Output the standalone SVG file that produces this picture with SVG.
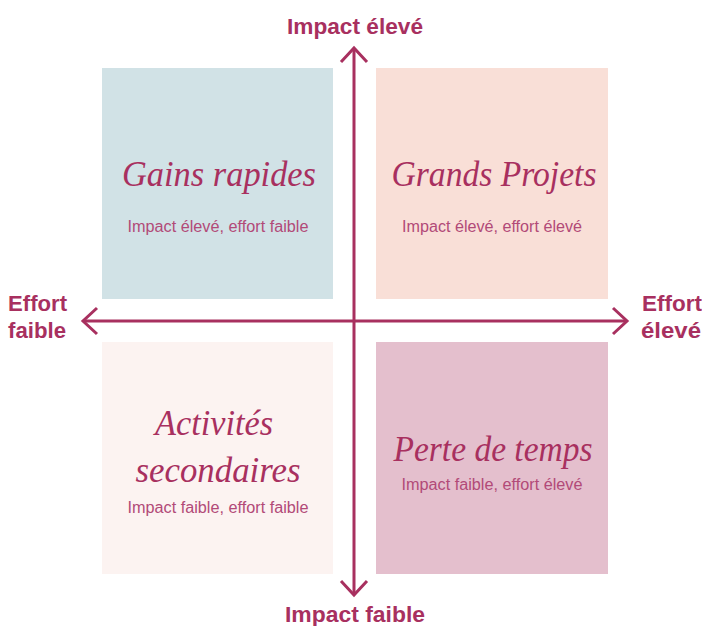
<svg xmlns="http://www.w3.org/2000/svg" width="702" height="626" viewBox="0 0 702 626">
  <style>
    .title { font-family: "Liberation Serif", "DejaVu Serif", serif; font-style: italic; font-size: 35px; fill: #A8305F; text-anchor: middle; }
    .sub { font-family: "Liberation Sans", Arial, sans-serif; font-size: 16px; fill: #B24A78; text-anchor: middle; }
    .axis { font-family: "Liberation Sans", Arial, sans-serif; font-weight: bold; font-size: 22px; fill: #A8305F; }
    .line { stroke: #A8305F; stroke-width: 3; fill: none; stroke-linecap: butt; stroke-linejoin: miter; }
  </style>
  <rect width="702" height="626" fill="#FFFFFF"/>

  <g id="quick-wins">
    <rect x="102" y="68" width="231" height="231" fill="#D1E2E6"/>
    <text class="title" x="219" y="186" textLength="194" lengthAdjust="spacingAndGlyphs">Gains rapides</text>
    <text class="sub" x="218" y="232" textLength="181" lengthAdjust="spacingAndGlyphs">Impact élevé, effort faible</text>
  </g>

  <g id="major-projects">
    <rect x="376" y="68" width="232" height="231" fill="#F9DFD7"/>
    <text class="title" x="494" y="186" textLength="205" lengthAdjust="spacingAndGlyphs">Grands Projets</text>
    <text class="sub" x="492" y="232" textLength="180" lengthAdjust="spacingAndGlyphs">Impact élevé, effort élevé</text>
  </g>

  <g id="secondary">
    <rect x="102" y="342" width="231" height="232" fill="#FCF3F1"/>
    <text class="title" x="214" y="435" textLength="118" lengthAdjust="spacingAndGlyphs">Activités</text>
    <text class="title" x="218" y="482" textLength="165" lengthAdjust="spacingAndGlyphs">secondaires</text>
    <text class="sub" x="218" y="513" textLength="181" lengthAdjust="spacingAndGlyphs">Impact faible, effort faible</text>
  </g>

  <g id="time-waste">
    <rect x="376" y="342" width="232" height="232" fill="#E4BFCD"/>
    <text class="title" x="493" y="461" textLength="199" lengthAdjust="spacingAndGlyphs">Perte de temps</text>
    <text class="sub" x="492" y="490" textLength="181" lengthAdjust="spacingAndGlyphs">Impact faible, effort élevé</text>
  </g>

  <g id="axes">
    <line class="line" x1="354" y1="49" x2="354" y2="594"/>
    <line class="line" x1="83" y1="321" x2="626" y2="321"/>
    <polyline class="line" points="341,62 354,48 367,62"/>
    <polyline class="line" points="341,581 354,595 367,581"/>
    <polyline class="line" points="97,308 83,321 97,334"/>
    <polyline class="line" points="613,308 627,321 613,334"/>
  </g>

  <g id="axis-labels">
    <text class="axis" x="355" y="34" text-anchor="middle" textLength="136" lengthAdjust="spacingAndGlyphs">Impact élevé</text>
    <text class="axis" x="355" y="622" text-anchor="middle" textLength="140" lengthAdjust="spacingAndGlyphs">Impact faible</text>
    <text class="axis" x="8" y="311" textLength="59" lengthAdjust="spacingAndGlyphs">Effort</text>
    <text class="axis" x="8" y="338" textLength="58" lengthAdjust="spacingAndGlyphs">faible</text>
    <text class="axis" x="642" y="311" textLength="60" lengthAdjust="spacingAndGlyphs">Effort</text>
    <text class="axis" x="641" y="338" textLength="60" lengthAdjust="spacingAndGlyphs">élevé</text>
  </g>
</svg>
